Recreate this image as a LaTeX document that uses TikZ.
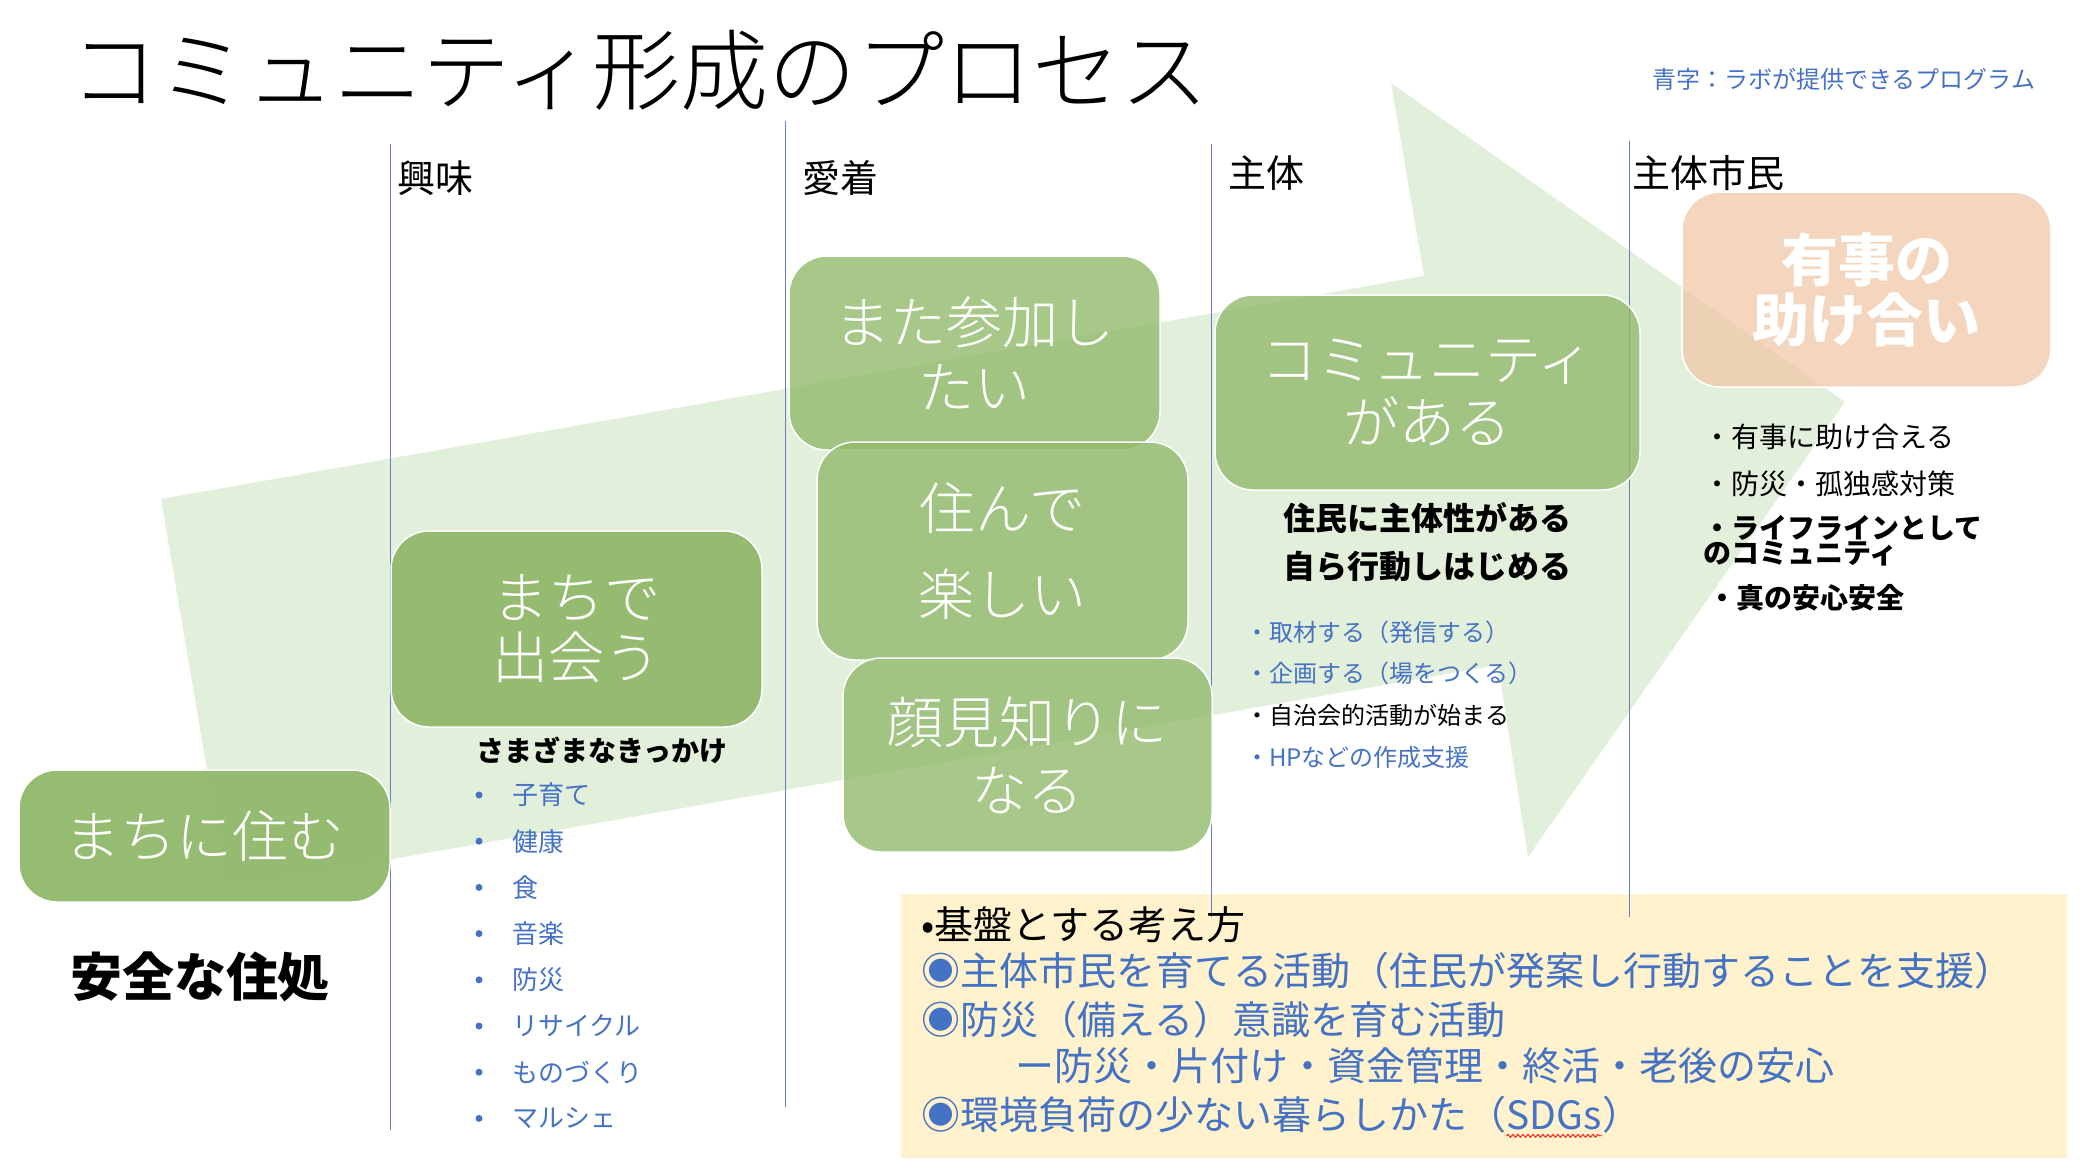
\documentclass[tikz,border=0pt]{standalone}
\usepackage{fontspec}
\setmainfont{Noto Sans CJK JP}
\IfFontExistsTF{Noto Sans CJK JP Light}
	{\newfontfamily\thinfont{Noto Sans CJK JP Light}}
	{\newfontfamily\thinfont{Noto Sans CJK JP}}
\usetikzlibrary{positioning}
\usetikzlibrary{decorations.pathmorphing}
\definecolor{arrowgreen}{RGB}{226,239,218}
\definecolor{boxgreen}{RGB}{146,186,108}
\definecolor{boxpeach}{RGB}{240,200,168}
\definecolor{progblue}{RGB}{68,114,196}
\definecolor{colline}{RGB}{100,125,195}
\definecolor{noteyellow}{RGB}{255,242,204}
\tikzset{
	step_box/.style = {rectangle, rounded corners=38pt, draw=white, line width=1.5pt,
		align=center, text=white, inner sep=0pt, text opacity=1},
	box_g/.style = {step_box, fill=boxgreen, fill opacity=0.97},% vert fonce
	box_l/.style = {step_box, fill=boxgreen, fill opacity=0.8},% vert clair
	box_p/.style = {step_box, fill=boxpeach, fill opacity=0.75},% peche
	col_lbl/.style = {anchor=west, inner sep=0pt, font=\fontsize{38}{40}\selectfont},
	col_line/.style = {draw=colline, line width=1pt},
	item/.style = {anchor=west, inner sep=0pt},
	item_b/.style = {item, text=progblue},% programme de la labo
	note/.style = {item, font=\fontsize{39}{40}\selectfont}
}

\begin{document}
\begin{tikzpicture}[x=1pt,y=-1pt]
	\useasboundingbox (0,0) rectangle (2086,1172);
	% fleche de fond
	\fill[arrowgreen] (161,499) -- (1424,276) -- (1391,83) -- (1845,402)
		-- (1528,857) -- (1498,665) -- (227,888) -- cycle;
	\node[rectangle, fill=noteyellow, minimum width=1166pt, minimum height=264pt,
		inner sep=0pt] (basis) at (1484,1026) {};
	% colonnes
	\draw[col_line] (390,144) -- (390,1130);
	\draw[col_line] (785,121) -- (785,1107);
	\draw[col_line] (1211,144) -- (1211,917);
	\draw[col_line] (1629,141) -- (1629,917);

	\node[anchor=west, inner sep=0pt, font=\thinfont\fontsize{88}{90}\selectfont] (title)
		at (70,70) {コミュニティ形成のプロセス};
	\node[item_b, font=\fontsize{24}{26}\selectfont] (legend) at (1652,79)
		{青字：ラボが提供できるプログラム};
	\node[col_lbl] (c_interest) at (397,178) {興味};
	\node[col_lbl] (c_attach) at (802,178) {愛着};
	\node[col_lbl] (c_subject) at (1228,173) {主体};
	\node[col_lbl] (c_citizen) at (1632,173) {主体市民};

	% etapes
	\node[box_g, minimum width=371pt, minimum height=132pt,
		font=\thinfont\fontsize{56}{60}\selectfont] (live) at (204.5,836) {まちに住む};
	\node[box_g, minimum width=371pt, minimum height=196pt,
		font=\thinfont\fontsize{56}{60}\selectfont] (meet) at (576.5,629) {まちで\\出会う};
	\node[box_l, minimum width=371pt, minimum height=194pt,
		font=\thinfont\fontsize{56}{65}\selectfont] (again) at (974.5,353) {また参加し\\たい};
	\node[box_l, minimum width=371pt, minimum height=218pt,
		font=\thinfont\fontsize{56}{86}\selectfont] (fun) at (1002.5,551) {住んで\\楽しい};
	\node[box_l, minimum width=369pt, minimum height=194pt,
		font=\thinfont\fontsize{56}{68}\selectfont] (known) at (1027.5,755) {顔見知りに\\なる};
	\node[box_l, minimum width=425pt, minimum height=195pt,
		font=\thinfont\fontsize{56}{63}\selectfont] (comm) at (1427.5,392.5) {コミュニティ\\がある};
	\node[box_p, minimum width=369pt, minimum height=195pt,
		font=\bfseries\fontsize{57}{60}\selectfont] (help) at (1866.5,289.5) {有事の\\助け合い};

	\node[font=\bfseries\fontsize{52}{56}\selectfont, inner sep=0pt] (safe)
		at (200,977) {安全な住処};
	\node[item, font=\bfseries\fontsize{28}{30}\selectfont] (chance) at (476,750)
		{さまざまなきっかけ};
	\foreach \t [count=\i] in {子育て,健康,食,音楽,防災,リサイクル,ものづくり,マルシェ} {
		\fill[progblue] (479,{795+46.2*(\i-1)}) circle (3.5pt);
		\node[item_b, font=\fontsize{26}{28}\selectfont] (k\i)
			at (512,{795+46.2*(\i-1)}) {\t};
	}

	\node[align=center, inner sep=0pt, font=\bfseries\fontsize{32}{48}\selectfont]
		(act) at (1427,542) {住民に主体性がある\\自ら行動しはじめる};
	\node[item_b, font=\fontsize{24}{26}\selectfont] (p1) at (1245,632) {・取材する（発信する）};
	\node[item_b, font=\fontsize{24}{26}\selectfont] (p2) at (1245,673) {・企画する（場をつくる）};
	\node[item, font=\fontsize{24}{26}\selectfont] (p3) at (1245,715) {・自治会的活動が始まる};
	\node[item_b, font=\fontsize{24}{26}\selectfont] (p4) at (1245,757) {・HPなどの作成支援};

	\node[item, font=\fontsize{28}{30}\selectfont] (h1) at (1703,437) {・有事に助け合える};
	\node[item, font=\fontsize{28}{30}\selectfont] (h2) at (1703,484) {・防災・孤独感対策};
	\node[item, align=left, font=\bfseries\fontsize{28}{24}\selectfont] (h3)
		at (1703,541) {・ライフラインとして\\のコミュニティ};
	\node[item, font=\bfseries\fontsize{28}{30}\selectfont] (h4) at (1708,598) {・真の安心安全};

	%基盤
	\node[note] (n1) at (921,925) {•基盤とする考え方};
	\node[note, text=progblue] (n2) at (921,971)
		{◉主体市民を育てる活動（住民が発案し行動することを支援）};
	\node[note, text=progblue] (n3) at (921,1020) {◉防災（備える）意識を育む活動};
	\node[note, text=progblue] (n4) at (1015,1066) {ー防災・片付け・資金管理・終活・老後の安心};
	\node[note, text=progblue] (n5) at (921,1115) {◉環境負荷の少ない暮らしかた（};
	\node[note, text=progblue, right=0pt of n5.base east, anchor=base west] (sdg) {SDGs};
	\node[note, text=progblue, right=0pt of sdg.base east, anchor=base west] (n5e) {）};
	\draw[red, line width=0.8pt, decorate,
		decoration={snake, amplitude=1.5pt, segment length=5pt}]
		([yshift=-6pt]sdg.base west) -- ([yshift=-6pt]sdg.base east);
\end{tikzpicture}
\end{document}
